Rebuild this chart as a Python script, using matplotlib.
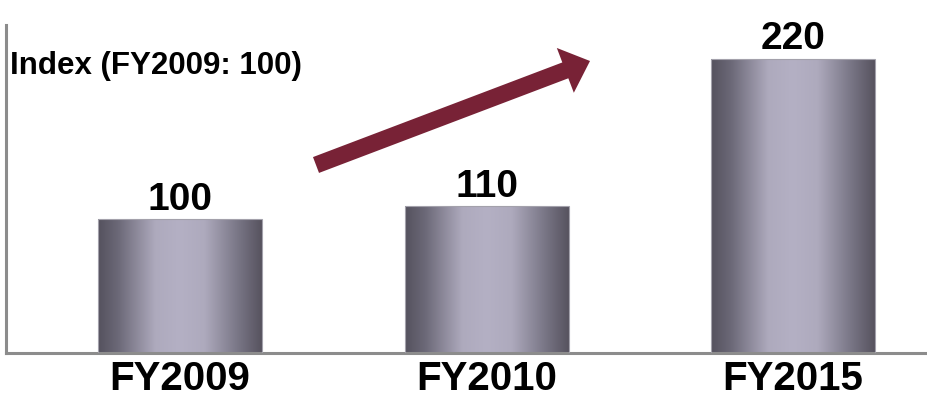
import numpy as np
import matplotlib.pyplot as plt
from matplotlib.patches import FancyArrowPatch, Rectangle
from matplotlib.colors import LinearSegmentedColormap

plt.rcParams['font.family'] = ['Liberation Sans', 'DejaVu Sans']
plt.rcParams['font.weight'] = 'bold'

years = ['FY2009', 'FY2010', 'FY2015']
index = [100, 110, 220]
ylabel = 'Index (FY2009: 100)'

fig = plt.figure(figsize=(9.28, 3.97), dpi=100)
ax = fig.add_axes([6 / 928, 44 / 397, 922 / 928, 328 / 397])

x = np.arange(len(years))
width = 0.535
ax.set_xlim(-0.568, 2.440)
ax.set_ylim(0, 245.3)

# metallic look: dark edges, light middle
shade = LinearSegmentedColormap.from_list(
    'shade', [(0.0, '#55525e'), (0.12, '#6b6877'), (0.35, '#aeaabd'),
              (0.5, '#b4b0c4'), (0.65, '#aeaabd'), (0.85, '#7a7787'),
              (1.0, '#57535f')])
grad = np.linspace(0, 1, 256).reshape(1, -1)

for xi, v in zip(x, index):
    x0 = xi - width / 2
    rect = Rectangle((x0, 0), width, v, facecolor='none',
                     edgecolor='#a3a1ab', linewidth=0.8, zorder=3)
    ax.add_patch(rect)
    im = ax.imshow(grad, cmap=shade, aspect='auto',
                   extent=(x0, x0 + width, 0, v), zorder=2)
    im.set_clip_path(rect)
    ax.text(xi, v + 1, str(v), ha='center', va='bottom',
            fontsize=28, fontweight='bold')

ax.set_xticks(x)
ax.set_xticklabels(years, fontsize=29, fontweight='bold')
ax.tick_params(axis='x', length=0, pad=5)
ax.set_yticks([])

for s in ['top', 'right']:
    ax.spines[s].set_visible(False)
for s in ['left', 'bottom']:
    ax.spines[s].set_color('#8c8c8c')
    ax.spines[s].set_linewidth(2.2)

fig.text(10 / 928, 1 - 66 / 397, ylabel, ha='left', va='center',
         fontsize=22.5, fontweight='bold')

# growth arrow
arrow = FancyArrowPatch((316 / 928, 1 - 165 / 397), (590 / 928, 1 - 61 / 397),
                        transform=fig.transFigure,
                        arrowstyle='simple,head_length=19,head_width=34.5,tail_width=12.2',
                        mutation_scale=1, shrinkA=0, shrinkB=0,
                        color='#782236', linewidth=0)
fig.patches.append(arrow)

fig.savefig('out.png', dpi=100)
